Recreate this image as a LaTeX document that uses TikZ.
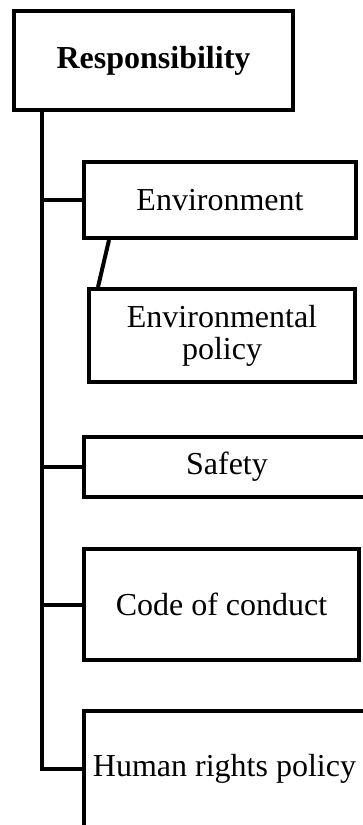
\documentclass[tikz,border=0pt]{standalone}
\usepackage{fontspec}
\setmainfont{Liberation Serif}
\begin{document}
\begin{tikzpicture}[x=1pt,y=-1pt,
  box/.style={draw=black,line width=4pt,rectangle,inner sep=0pt,align=center,
    font=\fontsize{32}{32}\selectfont,line join=miter},
  link/.style={draw=black,line width=4pt,line join=miter}]
\clip (0,0) rectangle (363,825);
\fill[white] (0,0) rectangle (363,825);
\node[box,minimum width=279pt,minimum height=99pt,font=\fontsize{32}{32}\selectfont\bfseries] (resp) at (153.5,60.5) {Responsibility};
\node[box,minimum width=272pt,minimum height=76pt] (env) at (220,200) {Environment};
\node[box,minimum width=266pt,minimum height=93pt] (pol) at (222,335.5) {Environmental\\policy};
\node[box,minimum width=286pt,minimum height=60pt] (saf) at (227,467) {Safety};
\node[box,minimum width=275pt,minimum height=111pt] (coc) at (221.5,604.5) {Code of conduct};
\node[box,minimum width=281pt,minimum height=116pt] (hr) at (224.5,769) {Human rights policy};
\coordinate (ttop) at (42,110);
\draw[link] (ttop) |- (hr.west);
\draw[link] (ttop |- env.west) -- (env.west);
\draw[link] (ttop |- saf.west) -- (saf.west);
\draw[link] (ttop |- coc.west) -- (coc.west);
\draw[link] ([xshift=27pt]env.south west) -- ([xshift=11pt]pol.north west);
\end{tikzpicture}
\end{document}
